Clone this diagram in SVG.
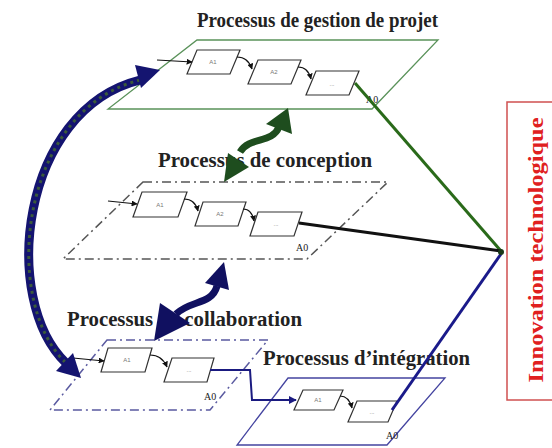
<svg xmlns="http://www.w3.org/2000/svg" width="552" height="448" viewBox="0 0 552 448">
<style>
.title{font-family:"Liberation Serif","Times New Roman",serif;font-weight:bold;font-size:20px;fill:#222;}
.box{fill:#fff;stroke:#333;stroke-width:1.2;}
.blab{font-family:"Liberation Sans",Arial,sans-serif;font-size:6px;fill:#777;text-anchor:middle;}
.a0{font-family:"Liberation Serif","Times New Roman",serif;font-size:10px;fill:#222;}
.small{fill:none;stroke:#111;stroke-width:1.2;marker-end:url(#ah);}
</style>
<defs>
<marker id="ah" viewBox="0 0 10 10" refX="9" refY="5" markerWidth="6" markerHeight="6" markerUnits="userSpaceOnUse" orient="auto">
<path d="M0,0 L10,5 L0,10 z" fill="#111"/>
</marker>
<marker id="ahb" viewBox="0 0 10 10" refX="9" refY="5" markerWidth="8" markerHeight="8" markerUnits="userSpaceOnUse" orient="auto">
<path d="M0,0 L10,5 L0,10 z" fill="#1a1a80"/>
</marker>
</defs>
<rect width="552" height="448" fill="#fff"/>

<g id="gestion">
<polygon points="197,40 438,40 372,109 108,109" fill="none" stroke="#5a925a" stroke-width="1.3"/>
<text class="title" x="197" y="27" textLength="241" lengthAdjust="spacingAndGlyphs">Processus de gestion de projet</text>
<polygon class="box" points="197,50 240,50 230,74 187,74"/><text class="blab" x="213" y="64">A1</text>
<polygon class="box" points="258,60 301,60 291,84 248,84"/><text class="blab" x="274" y="74">A2</text>
<polygon class="box" points="316,71 359,71 349,95 306,95"/><text class="blab" x="332" y="86">...</text>
<text class="a0" x="366" y="103">A0</text>
</g>

<g id="conception">
<polygon points="143,182 388,182 307,259 63,259" fill="none" stroke="#555" stroke-width="1.5" stroke-dasharray="9 4 2 4"/>
<text class="title" x="158" y="167" textLength="214" lengthAdjust="spacingAndGlyphs">Processus de conception</text>
<polygon class="box" points="142,192 187,192 178,217 133,217"/><text class="blab" x="160" y="207">A1</text>
<polygon class="box" points="203,202 246,202 238,226 195,226"/><text class="blab" x="220" y="216">A2</text>
<polygon class="box" points="258,212 302,212 294,236 250,236"/><text class="blab" x="276" y="226">...</text>
<text class="a0" x="296" y="251">A0</text>
</g>

<g id="collaboration">
<polygon points="107,340 268,340 210,410 50,410" fill="none" stroke="#5a5aa0" stroke-width="1.5" stroke-dasharray="9 4 2 4"/>
<text class="title" x="67" y="326" textLength="235" lengthAdjust="spacingAndGlyphs">Processus de collaboration</text>
<polygon class="box" points="108,348 152,348 145,372 101,372"/><text class="blab" x="127" y="362">A1</text>
<polygon class="box" points="172,358 214,358 207,382 164,382"/><text class="blab" x="189" y="372">...</text>
<text class="a0" x="204" y="400">A0</text>
</g>

<g id="integration">
<polygon points="288,378 445,378 387,445 237,445" fill="none" stroke="#4444a0" stroke-width="1.3"/>
<text class="title" x="263" y="365" textLength="207" lengthAdjust="spacingAndGlyphs">Processus d’intégration</text>
<polygon class="box" points="303,390 343,390 334,410 294,410"/><text class="blab" x="318" y="402">A1</text>
<polygon class="box" points="357,401 397,401 388,422 348,422"/><text class="blab" x="372" y="414">...</text>
<text class="a0" x="386" y="439">A0</text>
</g>

<g id="innovation">
<rect x="507" y="102" width="60" height="298" fill="none" stroke="#d05050" stroke-width="1.5"/>
<text transform="translate(543,250) rotate(-90)" text-anchor="middle" textLength="265" lengthAdjust="spacingAndGlyphs" font-family="Liberation Serif, Times New Roman, serif" font-weight="bold" font-size="22" fill="#e02020">Innovation technologique</text>
</g>

<g id="connectors">
<path class="small" d="M157,60 L192,62"/>
<path class="small" d="M237,57 Q248,57 252,69"/>
<path class="small" d="M298,67 Q308,67 311,79"/>
<path class="small" d="M108,201 L137,204"/>
<path class="small" d="M184,199 Q195,199 198,211"/>
<path class="small" d="M243,209 Q252,209 254,221"/>
<path class="small" d="M73,358 L104,361"/>
<path class="small" d="M150,355 Q162,355 167,367"/>
<path class="small" d="M340,396 Q349,396 352,408"/>
<path d="M210,370 L250,370 L252,400 L296,400" fill="none" stroke="#1a1a80" stroke-width="2" marker-end="url(#ahb)"/>
<line x1="355" y1="83" x2="501" y2="251" stroke="#2a6a1a" stroke-width="3"/>
<line x1="299" y1="223" x2="501" y2="251" stroke="#111" stroke-width="3"/>
<line x1="392" y1="410" x2="501" y2="254" stroke="#1a1a8a" stroke-width="3"/>
<circle cx="501" cy="252" r="3" fill="#1a3a1a"/>
<path d="M140,80 C20,110 0,300 66,363" fill="none" stroke="#141470" stroke-width="9"/>
<path d="M140,80 C20,110 0,300 66,363" fill="none" stroke="#3a5a3a" stroke-width="3" stroke-dasharray="3 4"/>
<polygon points="160,70 135,65 141,88" fill="#141470"/>
<polygon points="81,378 56,371 73,353" fill="#141470"/>
<path d="M279,127 C272,144 250,136 240,152" fill="none" stroke="#1e4d1e" stroke-width="7"/>
<polygon points="288,108 266,124 292,134" fill="#1e4d1e"/>
<polygon points="224,182 228,153 249,167" fill="#1e4d1e"/>
<path d="M217,286 C212,305 190,300 176,314" fill="none" stroke="#101060" stroke-width="7"/>
<polygon points="224,262 205,283 229,290" fill="#101060"/>
<polygon points="154,341 160,303 190,323" fill="#101060"/>
</g>
</svg>
